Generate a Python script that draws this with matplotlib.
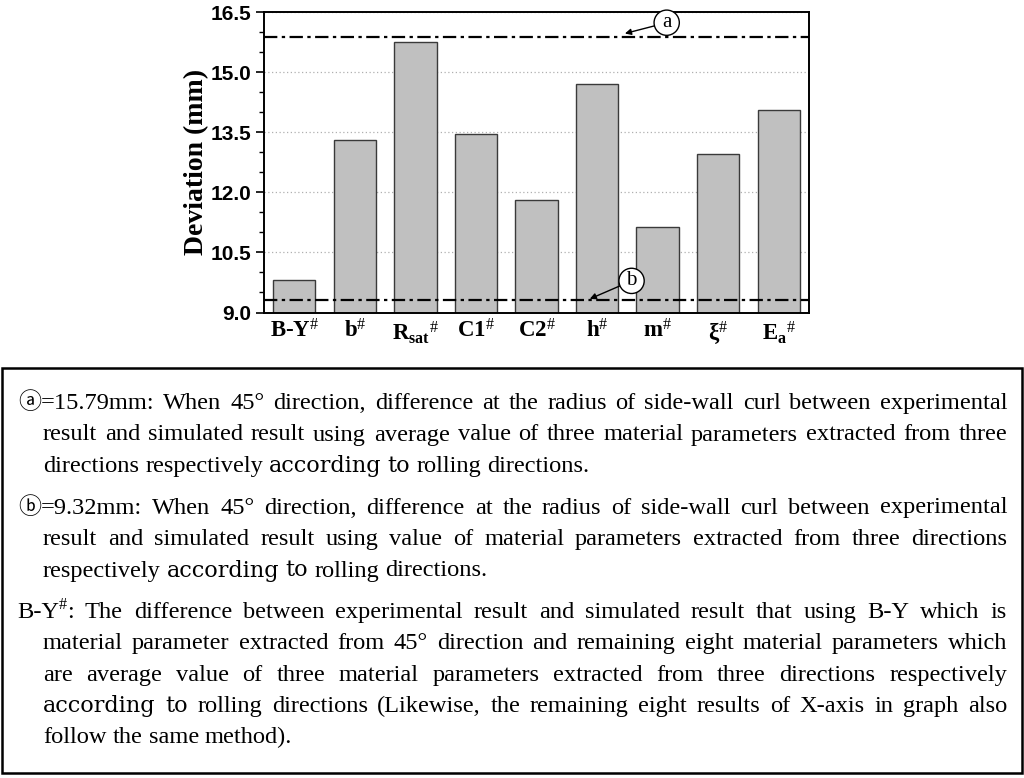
import matplotlib
matplotlib.use("Agg")
import matplotlib.pyplot as plt
from matplotlib.patches import Rectangle

## DATA
labels = [r"B-Y$^{\mathsf{\#}}$", r"b$^{\mathsf{\#}}$", r"R$_{\mathrm{sat}}$$^{\mathsf{\#}}$",
          r"C1$^{\mathsf{\#}}$", r"C2$^{\mathsf{\#}}$", r"h$^{\mathsf{\#}}$", r"m$^{\mathsf{\#}}$",
          r"ξ$^{\mathsf{\#}}$", r"E$_{\mathrm{a}}$$^{\mathsf{\#}}$"]
deviation = [9.81, 13.30, 15.76, 13.46, 11.81, 14.72, 11.13, 12.97, 14.06]
line_a = 15.89   # dash-dot reference (a)
line_b = 9.32    # dash-dot reference (b)
yticks = [9.0, 10.5, 12.0, 13.5, 15.0, 16.5]

## NOTE TEXT (lines as broken in the figure)
paragraphs = [
    ["ⓐ=15.79mm: When 45° direction, difference at the radius of side-wall curl between experimental",
     "result and simulated result using average value of three material parameters extracted from three",
     "directions respectively according to rolling directions."],
    ["ⓑ=9.32mm: When 45° direction, difference at the radius of side-wall curl between experimental",
     "result and simulated result using value of material parameters extracted from three directions",
     "respectively according to rolling directions."],
    ["B-Y#: The difference between experimental result and simulated result that using B-Y which is",
     "material parameter extracted from 45° direction and remaining eight material parameters which",
     "are average value of three material parameters extracted from three directions respectively",
     "according to rolling directions (Likewise, the remaining eight results of X-axis in graph also",
     "follow the same method)."],
]

plt.rcParams['mathtext.fontset'] = 'custom'
plt.rcParams['mathtext.rm'] = 'Liberation Serif:bold'
plt.rcParams['mathtext.bf'] = 'Liberation Serif:bold'
plt.rcParams['mathtext.it'] = 'Liberation Serif:italic:bold'
plt.rcParams['mathtext.sf'] = 'Liberation Serif'

W, H = 1024, 778
fig = plt.figure(figsize=(W / 100, H / 100), dpi=100)
ax = fig.add_axes([264 / W, 1 - 312.5 / H, 545 / W, 300.2 / H])

x = list(range(len(deviation)))
ax.bar(x, deviation, width=0.7, color='#c0c0c0', edgecolor='#3a3a3a', linewidth=1.0, zorder=2)
ax.axhline(line_a, color='black', lw=1.6, linestyle=(0, (6, 2, 1.5, 2)), zorder=3)
ax.axhline(line_b, color='black', lw=1.6, linestyle=(0, (6, 2, 1.5, 2)), zorder=3)

ax.set_xlim(-0.5, len(deviation) - 0.5)
ax.set_ylim(9.0, 16.5)
ax.set_yticks(yticks)
ax.set_yticks([v + 0.5 for v in yticks[:-1]] + [v + 1.0 for v in yticks[:-1]], minor=True)
ax.set_yticklabels([f"{v:.1f}" for v in yticks], fontfamily='Liberation Sans',
                   fontweight='bold', fontsize=15)
ax.set_xticks(x)
ax.set_xticklabels(labels, fontfamily='Liberation Serif', fontweight='bold', fontsize=16.5)
ax.tick_params(axis='x', length=0, pad=5)
ax.tick_params(axis='y', which='major', length=6, width=1.2, direction='out', pad=3)
ax.tick_params(axis='y', which='minor', length=3.5, width=1.0, direction='out')
ax.yaxis.grid(True, linestyle=(0, (1, 2)), color='#b0b0b0', lw=0.9)
ax.set_axisbelow(True)
for s in ax.spines.values():
    s.set_linewidth(1.4)
ax.set_ylabel('Deviation (mm)', fontfamily='Liberation Serif', fontweight='bold',
              fontsize=20, labelpad=1)

circ = dict(boxstyle='circle,pad=0.15', fc='white', ec='black', lw=1.0)
arrow = dict(arrowstyle='-|>', color='black', lw=1.0, mutation_scale=9, shrinkA=0, shrinkB=0)
ax.annotate('a', xy=(5.46, 15.97), xytext=(6.15, 16.24), fontsize=15,
            fontfamily='Liberation Serif', ha='center', va='center', bbox=circ,
            arrowprops=arrow, zorder=5)
ax.annotate('b', xy=(4.88, 9.34), xytext=(5.57, 9.79), fontsize=15,
            fontfamily='Liberation Serif', ha='center', va='center', bbox=circ,
            arrowprops=arrow, zorder=5)

# note box
fig.add_artist(Rectangle((2 / W, 1 - 773 / H), 1020 / W, 405 / H, transform=fig.transFigure,
                         fill=False, ec='black', lw=1.8))

fs = 17.6
serif = dict(family='Liberation Serif', size=fs)
other = dict(family='DejaVu Serif', size=fs - 1.5)
circled = dict(family=['Noto Sans CJK JP', 'DejaVu Sans'], size=fs - 1)
renderer = fig.canvas.get_renderer()


def segments(word):
    if word[0] in 'ⓐⓑ':
        return [(word[0], circled, 0), (word[1:], serif, 0)]
    if word.startswith('B-Y#'):
        return [('B-Y', serif, 0), ('#', dict(family='Liberation Serif', size=fs - 6), 9),
                (word[4:], serif, 0)]
    if word in ('according', 'to'):
        return [(word, other, 0)]
    return [(word, serif, 0)]


def put(xp, yp, txt, props, draw=True):
    t = fig.text(xp / W, 1 - yp / H, txt, fontdict=props, va='baseline', ha='left')
    w = t.get_window_extent(renderer=renderer).width
    if not draw:
        t.remove()
    return w


space_w = put(0, 0, 'a a', serif, False) - put(0, 0, 'aa', serif, False)

left_first = [18, 18, 17]
left_cont = 43
right = 1007
baselines = [[409, 440.5, 472], [513.5, 545, 576.5], [618, 649.3, 680.6, 711.9, 743.2]]

for p, lines in enumerate(paragraphs):
    for i, line in enumerate(lines):
        words = line.split(' ')
        segs = [segments(w) for w in words]
        widths = [sum(put(0, 0, s, pr, False) for s, pr, _ in sg) for sg in segs]
        x0 = left_first[p] if i == 0 else left_cont
        last = i == len(lines) - 1
        if last:
            gaps = [space_w] * (len(words) - 1)
        else:
            g = (right - x0 - sum(widths)) / (len(words) - 1)
            gaps = [g] * (len(words) - 1)
        xp = x0
        yb = baselines[p][i]
        for k, sg in enumerate(segs):
            for s, pr, dy in sg:
                xp += put(xp, yb - dy, s, pr)
            if k < len(gaps):
                xp += gaps[k]

fig.savefig('out.png', dpi=100)
